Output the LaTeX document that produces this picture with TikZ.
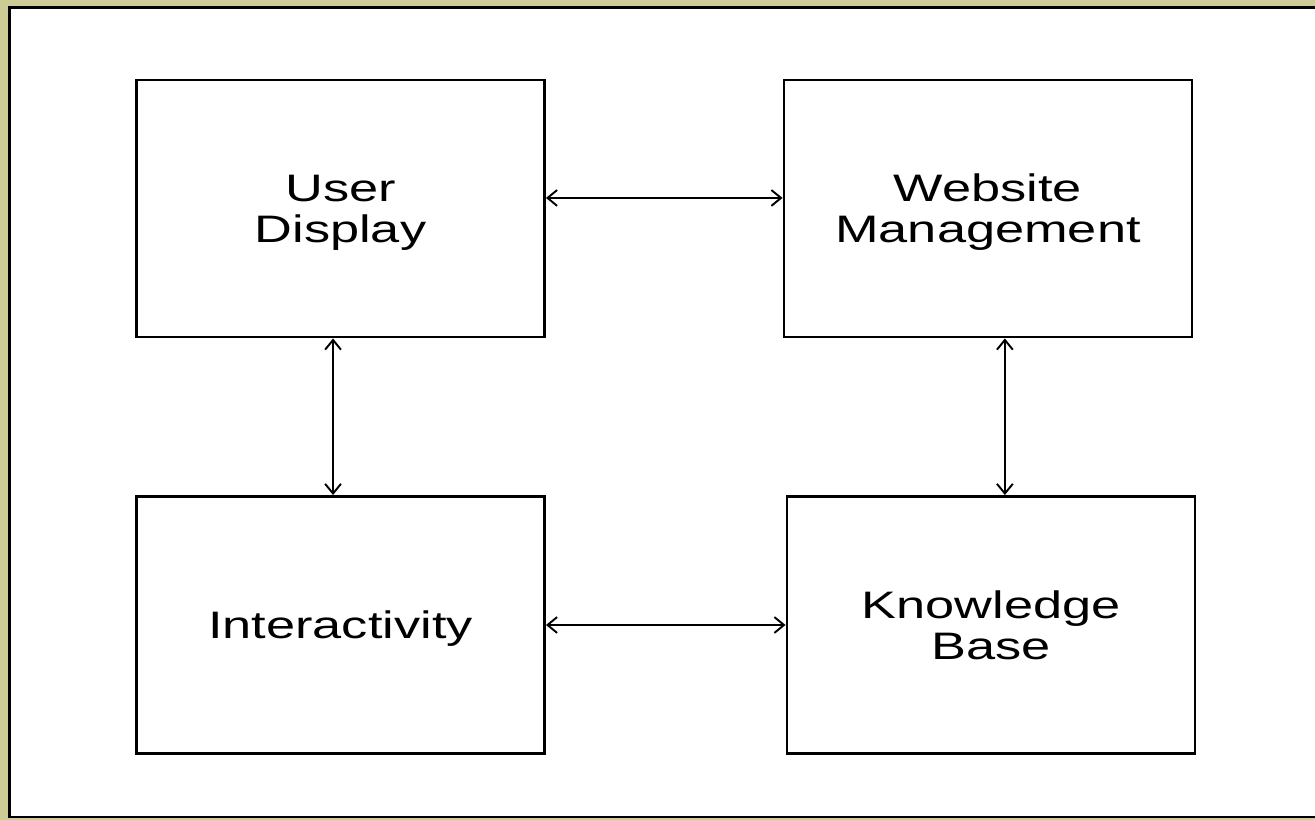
\documentclass[tikz,border=0pt]{standalone}
\usepackage{fontspec}
\setmainfont{Liberation Sans}[FakeStretch=1.366]
\usetikzlibrary{arrows.meta}
\definecolor{framebg}{RGB}{205,203,150}
\tikzset{
    blockbox/.style={draw, line width=1.4pt, inner sep=0pt, align=center,
        minimum width=8.17cm, minimum height=5.15cm, text depth=0pt,
        font=\fontsize{21.8}{23.4}\selectfont},
    link/.style={line width=1.1pt, {Straight Barb[length=5.5pt,width=9pt]}-{Straight Barb[length=5.5pt,width=9pt]}}
}
\begin{document}
\begin{tikzpicture}[x=0.02cm, y=-0.02cm]
            \useasboundingbox[fill=framebg] (0, 0) rectangle (1315, 820);
            \draw[fill=white, line width=1.7pt](9.5, 8) rectangle (1316, 817);

            %%blocks
            \node[blockbox] (display) at (340.5, 208.5){User\\Display};
            \node[blockbox] (website) at (988, 208.5){Website\\Management};
            \node[blockbox] (interact) at (340.5, 625){Interactivity};
            \node[blockbox] (knowledge) at (991, 625){Knowledge\\Base};

            %%links
            \draw[link] ([yshift=6pt]display.east) to ([yshift=6pt]display.east -| website.west);
            \draw[link] (interact.east) to (knowledge.west);
            \draw[link] ([xshift=-4.25pt]display.south) to ([xshift=-4.25pt]display.south |- interact.north);
            \draw[link] ([xshift=9.6pt]website.south) to ([xshift=9.6pt]website.south |- knowledge.north);

\end{tikzpicture}
\end{document}
